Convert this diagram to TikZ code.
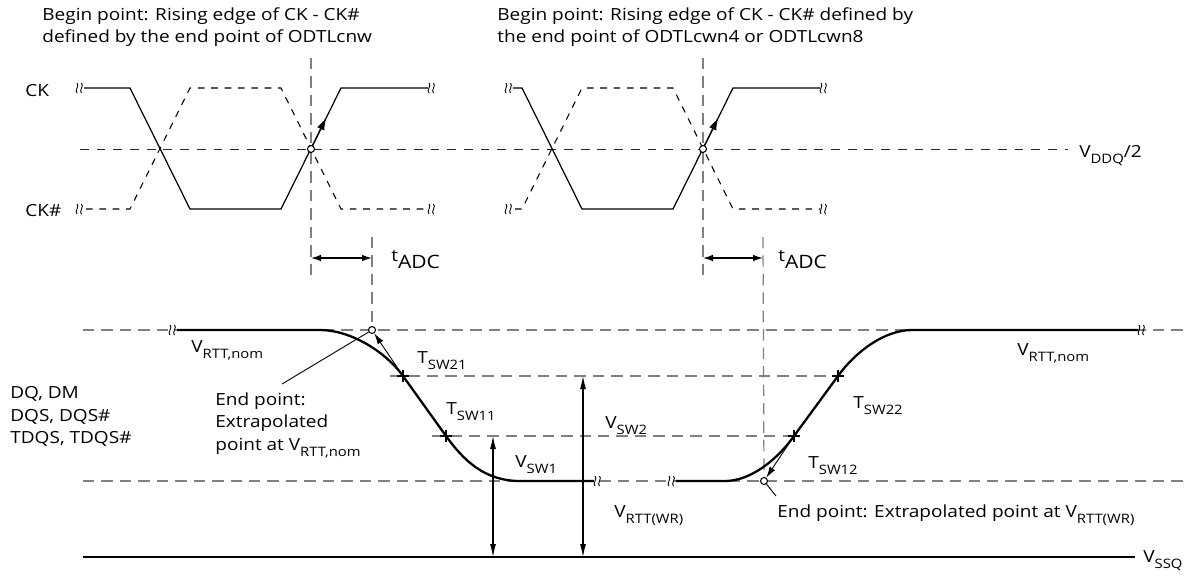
\documentclass[tikz,border=0pt]{standalone}
\usepackage{fontspec}
\setmainfont[FakeStretch=1.14]{Open Sans}
\usetikzlibrary{arrows.meta,calc}

\definecolor{guidegray}{gray}{0.5}
\newcommand{\lo}[1]{\raisebox{-3.6pt}{\fontsize{7.4}{8}\selectfont #1}}

\tikzset{
  txt/.style={anchor=base west,inner sep=0pt,font=\fontsize{9.5}{12}\selectfont},
  guide/.style={guidegray,line width=0.7pt,dash pattern=on 6.5pt off 4pt},
  mid/.style={black!85,line width=0.45pt,dash pattern=on 5pt off 4.5pt},
  clk/.style={line width=0.7pt},
  clkn/.style={line width=0.6pt,dash pattern=on 3.8pt off 3.8pt},
  wave/.style={line width=1.3pt},
  pt/.style={circle,draw,fill=white,inner sep=0pt,minimum size=0.14cm,line width=0.6pt},
  dim/.style={line width=0.6pt,{Latex[length=2.6mm,width=1.2mm]}-{Latex[length=2.6mm,width=1.2mm]}},
  tdim/.style={line width=0.7pt,{Latex[length=2mm,width=1.3mm]}-{Latex[length=2mm,width=1.3mm]}},
  ext/.style={line width=0.5pt,-{Latex[length=2.2mm,width=1.3mm]}},
  brk/.pic={\draw[line width=0.5pt] (-3,-5) .. controls (0,-3) and (-6,3) .. (-3,5)
    (1.5,-5) .. controls (4.5,-3) and (-1.5,3) .. (1.5,5);},
  cross/.pic={\draw[line width=1pt] (-6,0) -- (6,0) (0,-6) -- (0,6);}
}

\begin{document}
\begin{tikzpicture}[x=0.02cm,y=-0.02cm]
\useasboundingbox (0,0) rectangle (1190,575);

\node[txt] (beg1a) at (42,20) {Begin point: Rising edge of CK - CK\#};
\node[txt] (beg1b) at (42,42) {defined by the end point of ODTLcnw};
\node[txt] (beg2a) at (497,20) {Begin point: Rising edge of CK - CK\# defined by};
\node[txt] (beg2b) at (497,42) {the end point of ODTLcwn4 or ODTLcwn8};
\node[txt] (ck) at (25,96) {CK};
\node[txt] (ckn) at (25,216) {CK\#};
\node[txt] (vddq) at (1079,157) {V\lo{DDQ}/2};

\draw[mid] (80,149) -- (1068,149);

\foreach \dx/\xs in {0/84,392/513}
{
  \draw[clk] (\xs,88) -- (\dx+130,88) -- (\dx+190,209) -- (\dx+281,209) -- (\dx+341,88) -- (\dx+428,88);
  \draw[clkn] (\xs+2,209) -- (\dx+130,209) -- (\dx+190,88) -- (\dx+281,88) -- (\dx+341,209) -- (\dx+428,209);
  \pic at (\xs-4,88) {brk};
  \pic at (\xs-4,209) {brk};
  \pic at (\dx+432,88) {brk};
  \pic at (\dx+432,209) {brk};
}

\node[pt] (b1) at (311,149) {};
\node[pt] (b2) at (703,149) {};
\coordinate (u1) at (326,118);
\coordinate (u2) at (718,118);
\draw[clk,-{Latex[length=2.4mm,width=1.6mm]}] (b1) -- (u1);
\draw[clk,-{Latex[length=2.4mm,width=1.6mm]}] (b2) -- (u2);

\draw[guide] (311,58) -- (b1) -- (311,278);
\draw[guide] (703,58) -- (b2) -- (703,278);

\coordinate (a1) at (311,258);
\coordinate (z1) at (372,258);
\coordinate (a2) at (703,258);
\coordinate (z2) at (763,258);
\draw[tdim] (a1) -- (z1);
\draw[tdim] (a2) -- (z2);
\node[txt] (tadc1) at (391,261) {t\raisebox{-4pt}{\fontsize{10.5}{12}\selectfont ADC}};
\node[txt] (tadc2) at (778,261) {t\raisebox{-4pt}{\fontsize{10.5}{12}\selectfont ADC}};

\node[txt] (dq1) at (10,398) {DQ, DM};
\node[txt] (dq2) at (10,421) {DQS, DQS\#};
\node[txt] (dq3) at (10,443) {TDQS, TDQS\#};

\draw[guide] (83,330) -- (1190,330);
\draw[guide] (83,481) -- (1190,481);
\draw[guide] (390,376) -- (838,376);
\draw[guide] (432,436) -- (794,436);

\node[pt] (E1) at (372,330) {};
\node[pt] (E2) at (764,481) {};
\draw[guide] (372,237) -- (E1);
\draw[guide] (763,237) -- (E2);

\draw[line width=1.6pt] (83,557) -- (1135,557);

\draw[wave] (177,330) -- (320,330) .. controls (350,330) and (385,351) .. (403,376) -- (446,436)
  .. controls (464,461) and (485,481) .. (520,481) -- (594,481);
\draw[wave] (676,481) -- (725,481) .. controls (750,481) and (776,461) .. (794,436) -- (838,376)
  .. controls (856,351) and (885,330) .. (912,330) -- (1138,330);
\pic at (173,330) {brk};
\pic at (598,481) {brk};
\pic at (672,481) {brk};
\pic at (1142,330) {brk};

\coordinate (T21) at (403,376);
\coordinate (T11) at (446,436);
\coordinate (T12) at (794,436);
\coordinate (T22) at (838,376);
\foreach \P in {T21,T11,T12,T22}
{
  \pic at (\P) {cross};
}
\draw[ext] (T21) -- (E1);
\draw[ext] (T12) -- (E2);

\coordinate (L1) at (282,384);
\coordinate (L2) at (776,496);
\draw[line width=0.5pt] (L1) -- (E1);
\draw[line width=0.5pt] (E2) -- (L2);

\coordinate (s1b) at (493,557);
\coordinate (s1t) at (493,436);
\coordinate (s2b) at (583,557);
\coordinate (s2t) at (583,376);
\draw[dim] (s1b) -- (s1t);
\draw[dim] (s2b) -- (s2t);

\node[txt] (vnom1) at (191,352) {V\lo{RTT,nom}};
\node[txt] (ep1a) at (215,405) {End point:};
\node[txt] (ep1b) at (215,427) {Extrapolated};
\node[txt] (ep1c) at (215,450) {point at V\lo{RTT,nom}};
\node[txt] (tsw21) at (417,363) {T\lo{SW21}};
\node[txt] (tsw11) at (446,414) {T\lo{SW11}};
\node[txt] (vsw1) at (515,467) {V\lo{SW1}};
\node[txt] (vsw2) at (605,428) {V\lo{SW2}};
\node[txt] (vwr) at (614,517) {V\lo{RTT(WR)}};
\node[txt] (tsw12) at (808,468) {T\lo{SW12}};
\node[txt] (tsw22) at (853,408) {T\lo{SW22}};
\node[txt] (vnom2) at (1017,355) {V\lo{RTT,nom}};
\node[txt] (ep2) at (777,517) {End point: Extrapolated point at V\lo{RTT(WR)}};
\node[txt] (vssq) at (1143,562) {V\lo{SSQ}};

\end{tikzpicture}
\end{document}
